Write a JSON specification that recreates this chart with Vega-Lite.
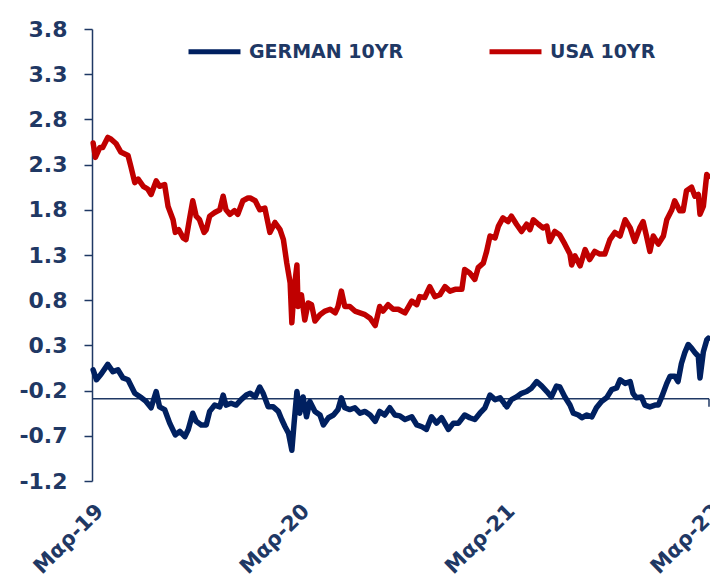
{
  "$schema": "https://vega.github.io/schema/vega-lite/v6.json",
  "width": 617,
  "height": 452,
  "autosize": {"type": "none"},
  "padding": {"left": 92, "top": 29, "right": 1, "bottom": 101},
  "background": "white",
  "config": {"view": {"stroke": null}, "font": "DejaVu Sans"},
  "layer": [
    {
      "data": {"values": [{"level": -0.29}]},
      "mark": {"type": "rule", "color": "#1F3864", "strokeWidth": 1.5},
      "encoding": {"y": {"field": "level", "type": "quantitative"}}
    },
    {
      "data": {"values": [{"date": "2020-03-20", "top": -0.29, "bottom": -0.38}, {"date": "2021-03-20", "top": -0.29, "bottom": -0.38}, {"date": "2022-03-20", "top": -0.29, "bottom": -0.38}]},
      "mark": {"type": "rule", "color": "#1F3864", "strokeWidth": 1.5},
      "encoding": {
        "x": {"field": "date", "type": "temporal"},
        "y": {"field": "top", "type": "quantitative"},
        "y2": {"field": "bottom"}
      }
    },
    {
      "data": {"values": [
        {"date": "2019-03-22", "series": "USA 10YR", "value": 2.54},
        {"date": "2019-03-26", "series": "USA 10YR", "value": 2.38},
        {"date": "2019-04-03", "series": "USA 10YR", "value": 2.49},
        {"date": "2019-04-08", "series": "USA 10YR", "value": 2.49},
        {"date": "2019-04-17", "series": "USA 10YR", "value": 2.60},
        {"date": "2019-04-23", "series": "USA 10YR", "value": 2.58},
        {"date": "2019-05-02", "series": "USA 10YR", "value": 2.53},
        {"date": "2019-05-10", "series": "USA 10YR", "value": 2.44},
        {"date": "2019-05-23", "series": "USA 10YR", "value": 2.40},
        {"date": "2019-05-28", "series": "USA 10YR", "value": 2.28},
        {"date": "2019-06-04", "series": "USA 10YR", "value": 2.10},
        {"date": "2019-06-10", "series": "USA 10YR", "value": 2.14},
        {"date": "2019-06-19", "series": "USA 10YR", "value": 2.06},
        {"date": "2019-06-27", "series": "USA 10YR", "value": 2.03},
        {"date": "2019-07-03", "series": "USA 10YR", "value": 1.97},
        {"date": "2019-07-12", "series": "USA 10YR", "value": 2.12},
        {"date": "2019-07-18", "series": "USA 10YR", "value": 2.06},
        {"date": "2019-07-27", "series": "USA 10YR", "value": 2.08},
        {"date": "2019-08-02", "series": "USA 10YR", "value": 1.84},
        {"date": "2019-08-11", "series": "USA 10YR", "value": 1.69},
        {"date": "2019-08-15", "series": "USA 10YR", "value": 1.55},
        {"date": "2019-08-21", "series": "USA 10YR", "value": 1.58},
        {"date": "2019-08-29", "series": "USA 10YR", "value": 1.49},
        {"date": "2019-09-03", "series": "USA 10YR", "value": 1.47},
        {"date": "2019-09-09", "series": "USA 10YR", "value": 1.69},
        {"date": "2019-09-15", "series": "USA 10YR", "value": 1.90},
        {"date": "2019-09-21", "series": "USA 10YR", "value": 1.73},
        {"date": "2019-09-27", "series": "USA 10YR", "value": 1.69},
        {"date": "2019-10-05", "series": "USA 10YR", "value": 1.55},
        {"date": "2019-10-09", "series": "USA 10YR", "value": 1.58},
        {"date": "2019-10-15", "series": "USA 10YR", "value": 1.73},
        {"date": "2019-10-24", "series": "USA 10YR", "value": 1.77},
        {"date": "2019-11-02", "series": "USA 10YR", "value": 1.80},
        {"date": "2019-11-08", "series": "USA 10YR", "value": 1.95},
        {"date": "2019-11-13", "series": "USA 10YR", "value": 1.80},
        {"date": "2019-11-20", "series": "USA 10YR", "value": 1.75},
        {"date": "2019-11-28", "series": "USA 10YR", "value": 1.79},
        {"date": "2019-12-04", "series": "USA 10YR", "value": 1.75},
        {"date": "2019-12-13", "series": "USA 10YR", "value": 1.90},
        {"date": "2019-12-22", "series": "USA 10YR", "value": 1.93},
        {"date": "2019-12-26", "series": "USA 10YR", "value": 1.93},
        {"date": "2020-01-04", "series": "USA 10YR", "value": 1.90},
        {"date": "2020-01-12", "series": "USA 10YR", "value": 1.80},
        {"date": "2020-01-21", "series": "USA 10YR", "value": 1.82},
        {"date": "2020-01-30", "series": "USA 10YR", "value": 1.55},
        {"date": "2020-02-08", "series": "USA 10YR", "value": 1.66},
        {"date": "2020-02-17", "series": "USA 10YR", "value": 1.58},
        {"date": "2020-02-23", "series": "USA 10YR", "value": 1.47},
        {"date": "2020-02-29", "series": "USA 10YR", "value": 1.21},
        {"date": "2020-03-06", "series": "USA 10YR", "value": 0.99},
        {"date": "2020-03-09", "series": "USA 10YR", "value": 0.55},
        {"date": "2020-03-13", "series": "USA 10YR", "value": 0.92},
        {"date": "2020-03-18", "series": "USA 10YR", "value": 1.19},
        {"date": "2020-03-20", "series": "USA 10YR", "value": 0.73},
        {"date": "2020-03-26", "series": "USA 10YR", "value": 0.86},
        {"date": "2020-04-01", "series": "USA 10YR", "value": 0.58},
        {"date": "2020-04-07", "series": "USA 10YR", "value": 0.77},
        {"date": "2020-04-13", "series": "USA 10YR", "value": 0.75},
        {"date": "2020-04-19", "series": "USA 10YR", "value": 0.57},
        {"date": "2020-04-28", "series": "USA 10YR", "value": 0.64},
        {"date": "2020-05-07", "series": "USA 10YR", "value": 0.68},
        {"date": "2020-05-16", "series": "USA 10YR", "value": 0.70},
        {"date": "2020-05-25", "series": "USA 10YR", "value": 0.66},
        {"date": "2020-05-30", "series": "USA 10YR", "value": 0.73},
        {"date": "2020-06-05", "series": "USA 10YR", "value": 0.90},
        {"date": "2020-06-11", "series": "USA 10YR", "value": 0.73},
        {"date": "2020-06-20", "series": "USA 10YR", "value": 0.73},
        {"date": "2020-06-29", "series": "USA 10YR", "value": 0.68},
        {"date": "2020-07-08", "series": "USA 10YR", "value": 0.66},
        {"date": "2020-07-17", "series": "USA 10YR", "value": 0.64},
        {"date": "2020-07-26", "series": "USA 10YR", "value": 0.60},
        {"date": "2020-08-04", "series": "USA 10YR", "value": 0.52},
        {"date": "2020-08-12", "series": "USA 10YR", "value": 0.73},
        {"date": "2020-08-18", "series": "USA 10YR", "value": 0.68},
        {"date": "2020-08-27", "series": "USA 10YR", "value": 0.75},
        {"date": "2020-09-05", "series": "USA 10YR", "value": 0.70},
        {"date": "2020-09-14", "series": "USA 10YR", "value": 0.70},
        {"date": "2020-09-26", "series": "USA 10YR", "value": 0.66},
        {"date": "2020-10-08", "series": "USA 10YR", "value": 0.79},
        {"date": "2020-10-17", "series": "USA 10YR", "value": 0.75},
        {"date": "2020-10-22", "series": "USA 10YR", "value": 0.84},
        {"date": "2020-10-31", "series": "USA 10YR", "value": 0.83},
        {"date": "2020-11-09", "series": "USA 10YR", "value": 0.95},
        {"date": "2020-11-18", "series": "USA 10YR", "value": 0.84},
        {"date": "2020-11-27", "series": "USA 10YR", "value": 0.86},
        {"date": "2020-12-06", "series": "USA 10YR", "value": 0.95},
        {"date": "2020-12-15", "series": "USA 10YR", "value": 0.90},
        {"date": "2020-12-24", "series": "USA 10YR", "value": 0.92},
        {"date": "2021-01-05", "series": "USA 10YR", "value": 0.92},
        {"date": "2021-01-10", "series": "USA 10YR", "value": 1.14},
        {"date": "2021-01-19", "series": "USA 10YR", "value": 1.10},
        {"date": "2021-01-28", "series": "USA 10YR", "value": 1.03},
        {"date": "2021-02-03", "series": "USA 10YR", "value": 1.16},
        {"date": "2021-02-12", "series": "USA 10YR", "value": 1.21},
        {"date": "2021-02-18", "series": "USA 10YR", "value": 1.34},
        {"date": "2021-02-24", "series": "USA 10YR", "value": 1.51},
        {"date": "2021-03-05", "series": "USA 10YR", "value": 1.49},
        {"date": "2021-03-11", "series": "USA 10YR", "value": 1.62},
        {"date": "2021-03-19", "series": "USA 10YR", "value": 1.71},
        {"date": "2021-03-28", "series": "USA 10YR", "value": 1.67},
        {"date": "2021-04-03", "series": "USA 10YR", "value": 1.73},
        {"date": "2021-04-12", "series": "USA 10YR", "value": 1.64},
        {"date": "2021-04-21", "series": "USA 10YR", "value": 1.56},
        {"date": "2021-04-30", "series": "USA 10YR", "value": 1.64},
        {"date": "2021-05-06", "series": "USA 10YR", "value": 1.58},
        {"date": "2021-05-12", "series": "USA 10YR", "value": 1.69},
        {"date": "2021-05-21", "series": "USA 10YR", "value": 1.64},
        {"date": "2021-05-29", "series": "USA 10YR", "value": 1.60},
        {"date": "2021-06-05", "series": "USA 10YR", "value": 1.62},
        {"date": "2021-06-10", "series": "USA 10YR", "value": 1.45},
        {"date": "2021-06-19", "series": "USA 10YR", "value": 1.56},
        {"date": "2021-06-28", "series": "USA 10YR", "value": 1.52},
        {"date": "2021-07-07", "series": "USA 10YR", "value": 1.42},
        {"date": "2021-07-16", "series": "USA 10YR", "value": 1.31},
        {"date": "2021-07-19", "series": "USA 10YR", "value": 1.19},
        {"date": "2021-07-25", "series": "USA 10YR", "value": 1.29},
        {"date": "2021-08-03", "series": "USA 10YR", "value": 1.18},
        {"date": "2021-08-12", "series": "USA 10YR", "value": 1.36},
        {"date": "2021-08-20", "series": "USA 10YR", "value": 1.25},
        {"date": "2021-08-29", "series": "USA 10YR", "value": 1.34},
        {"date": "2021-09-07", "series": "USA 10YR", "value": 1.31},
        {"date": "2021-09-16", "series": "USA 10YR", "value": 1.31},
        {"date": "2021-09-25", "series": "USA 10YR", "value": 1.47},
        {"date": "2021-10-04", "series": "USA 10YR", "value": 1.55},
        {"date": "2021-10-13", "series": "USA 10YR", "value": 1.51},
        {"date": "2021-10-22", "series": "USA 10YR", "value": 1.69},
        {"date": "2021-10-31", "series": "USA 10YR", "value": 1.60},
        {"date": "2021-11-08", "series": "USA 10YR", "value": 1.45},
        {"date": "2021-11-17", "series": "USA 10YR", "value": 1.60},
        {"date": "2021-11-23", "series": "USA 10YR", "value": 1.67},
        {"date": "2021-11-29", "series": "USA 10YR", "value": 1.51},
        {"date": "2021-12-05", "series": "USA 10YR", "value": 1.34},
        {"date": "2021-12-11", "series": "USA 10YR", "value": 1.51},
        {"date": "2021-12-20", "series": "USA 10YR", "value": 1.42},
        {"date": "2021-12-29", "series": "USA 10YR", "value": 1.51},
        {"date": "2022-01-04", "series": "USA 10YR", "value": 1.69},
        {"date": "2022-01-13", "series": "USA 10YR", "value": 1.80},
        {"date": "2022-01-18", "series": "USA 10YR", "value": 1.90},
        {"date": "2022-01-27", "series": "USA 10YR", "value": 1.79},
        {"date": "2022-02-02", "series": "USA 10YR", "value": 1.79},
        {"date": "2022-02-08", "series": "USA 10YR", "value": 2.01},
        {"date": "2022-02-17", "series": "USA 10YR", "value": 2.05},
        {"date": "2022-02-23", "series": "USA 10YR", "value": 1.95},
        {"date": "2022-03-01", "series": "USA 10YR", "value": 1.97},
        {"date": "2022-03-04", "series": "USA 10YR", "value": 1.75},
        {"date": "2022-03-10", "series": "USA 10YR", "value": 1.84},
        {"date": "2022-03-16", "series": "USA 10YR", "value": 2.19},
        {"date": "2022-03-19", "series": "USA 10YR", "value": 2.17},
        {"date": "2019-03-22", "series": "GERMAN 10YR", "value": 0.03},
        {"date": "2019-03-28", "series": "GERMAN 10YR", "value": -0.08},
        {"date": "2019-04-05", "series": "GERMAN 10YR", "value": -0.02},
        {"date": "2019-04-17", "series": "GERMAN 10YR", "value": 0.09},
        {"date": "2019-04-26", "series": "GERMAN 10YR", "value": 0.01},
        {"date": "2019-05-05", "series": "GERMAN 10YR", "value": 0.03},
        {"date": "2019-05-14", "series": "GERMAN 10YR", "value": -0.06},
        {"date": "2019-05-23", "series": "GERMAN 10YR", "value": -0.08},
        {"date": "2019-06-04", "series": "GERMAN 10YR", "value": -0.23},
        {"date": "2019-06-16", "series": "GERMAN 10YR", "value": -0.28},
        {"date": "2019-06-24", "series": "GERMAN 10YR", "value": -0.32},
        {"date": "2019-07-03", "series": "GERMAN 10YR", "value": -0.39},
        {"date": "2019-07-12", "series": "GERMAN 10YR", "value": -0.21},
        {"date": "2019-07-18", "series": "GERMAN 10YR", "value": -0.38},
        {"date": "2019-07-27", "series": "GERMAN 10YR", "value": -0.41},
        {"date": "2019-08-05", "series": "GERMAN 10YR", "value": -0.56},
        {"date": "2019-08-15", "series": "GERMAN 10YR", "value": -0.69},
        {"date": "2019-08-23", "series": "GERMAN 10YR", "value": -0.65},
        {"date": "2019-09-01", "series": "GERMAN 10YR", "value": -0.71},
        {"date": "2019-09-07", "series": "GERMAN 10YR", "value": -0.63},
        {"date": "2019-09-15", "series": "GERMAN 10YR", "value": -0.45},
        {"date": "2019-09-21", "series": "GERMAN 10YR", "value": -0.54},
        {"date": "2019-09-30", "series": "GERMAN 10YR", "value": -0.58},
        {"date": "2019-10-09", "series": "GERMAN 10YR", "value": -0.58},
        {"date": "2019-10-15", "series": "GERMAN 10YR", "value": -0.43},
        {"date": "2019-10-24", "series": "GERMAN 10YR", "value": -0.36},
        {"date": "2019-11-02", "series": "GERMAN 10YR", "value": -0.38},
        {"date": "2019-11-08", "series": "GERMAN 10YR", "value": -0.25},
        {"date": "2019-11-13", "series": "GERMAN 10YR", "value": -0.36},
        {"date": "2019-11-22", "series": "GERMAN 10YR", "value": -0.34},
        {"date": "2019-12-01", "series": "GERMAN 10YR", "value": -0.36},
        {"date": "2019-12-10", "series": "GERMAN 10YR", "value": -0.30},
        {"date": "2019-12-19", "series": "GERMAN 10YR", "value": -0.25},
        {"date": "2019-12-26", "series": "GERMAN 10YR", "value": -0.23},
        {"date": "2020-01-04", "series": "GERMAN 10YR", "value": -0.27},
        {"date": "2020-01-12", "series": "GERMAN 10YR", "value": -0.16},
        {"date": "2020-01-18", "series": "GERMAN 10YR", "value": -0.23},
        {"date": "2020-01-27", "series": "GERMAN 10YR", "value": -0.38},
        {"date": "2020-02-05", "series": "GERMAN 10YR", "value": -0.38},
        {"date": "2020-02-14", "series": "GERMAN 10YR", "value": -0.43},
        {"date": "2020-02-20", "series": "GERMAN 10YR", "value": -0.52},
        {"date": "2020-02-26", "series": "GERMAN 10YR", "value": -0.60},
        {"date": "2020-03-03", "series": "GERMAN 10YR", "value": -0.67},
        {"date": "2020-03-09", "series": "GERMAN 10YR", "value": -0.86},
        {"date": "2020-03-13", "series": "GERMAN 10YR", "value": -0.56},
        {"date": "2020-03-18", "series": "GERMAN 10YR", "value": -0.21},
        {"date": "2020-03-23", "series": "GERMAN 10YR", "value": -0.45},
        {"date": "2020-03-29", "series": "GERMAN 10YR", "value": -0.27},
        {"date": "2020-04-04", "series": "GERMAN 10YR", "value": -0.49},
        {"date": "2020-04-10", "series": "GERMAN 10YR", "value": -0.32},
        {"date": "2020-04-19", "series": "GERMAN 10YR", "value": -0.43},
        {"date": "2020-04-28", "series": "GERMAN 10YR", "value": -0.47},
        {"date": "2020-05-04", "series": "GERMAN 10YR", "value": -0.58},
        {"date": "2020-05-13", "series": "GERMAN 10YR", "value": -0.50},
        {"date": "2020-05-22", "series": "GERMAN 10YR", "value": -0.47},
        {"date": "2020-05-30", "series": "GERMAN 10YR", "value": -0.41},
        {"date": "2020-06-05", "series": "GERMAN 10YR", "value": -0.28},
        {"date": "2020-06-11", "series": "GERMAN 10YR", "value": -0.39},
        {"date": "2020-06-20", "series": "GERMAN 10YR", "value": -0.41},
        {"date": "2020-06-29", "series": "GERMAN 10YR", "value": -0.39},
        {"date": "2020-07-08", "series": "GERMAN 10YR", "value": -0.45},
        {"date": "2020-07-17", "series": "GERMAN 10YR", "value": -0.43},
        {"date": "2020-07-26", "series": "GERMAN 10YR", "value": -0.47},
        {"date": "2020-08-04", "series": "GERMAN 10YR", "value": -0.54},
        {"date": "2020-08-12", "series": "GERMAN 10YR", "value": -0.43},
        {"date": "2020-08-21", "series": "GERMAN 10YR", "value": -0.47},
        {"date": "2020-08-30", "series": "GERMAN 10YR", "value": -0.39},
        {"date": "2020-09-08", "series": "GERMAN 10YR", "value": -0.47},
        {"date": "2020-09-17", "series": "GERMAN 10YR", "value": -0.48},
        {"date": "2020-09-26", "series": "GERMAN 10YR", "value": -0.52},
        {"date": "2020-10-08", "series": "GERMAN 10YR", "value": -0.49},
        {"date": "2020-10-17", "series": "GERMAN 10YR", "value": -0.58},
        {"date": "2020-10-26", "series": "GERMAN 10YR", "value": -0.60},
        {"date": "2020-11-03", "series": "GERMAN 10YR", "value": -0.63},
        {"date": "2020-11-12", "series": "GERMAN 10YR", "value": -0.49},
        {"date": "2020-11-21", "series": "GERMAN 10YR", "value": -0.56},
        {"date": "2020-11-30", "series": "GERMAN 10YR", "value": -0.50},
        {"date": "2020-12-12", "series": "GERMAN 10YR", "value": -0.63},
        {"date": "2020-12-21", "series": "GERMAN 10YR", "value": -0.56},
        {"date": "2020-12-30", "series": "GERMAN 10YR", "value": -0.56},
        {"date": "2021-01-10", "series": "GERMAN 10YR", "value": -0.47},
        {"date": "2021-01-19", "series": "GERMAN 10YR", "value": -0.50},
        {"date": "2021-01-28", "series": "GERMAN 10YR", "value": -0.52},
        {"date": "2021-02-06", "series": "GERMAN 10YR", "value": -0.45},
        {"date": "2021-02-15", "series": "GERMAN 10YR", "value": -0.39},
        {"date": "2021-02-24", "series": "GERMAN 10YR", "value": -0.25},
        {"date": "2021-03-05", "series": "GERMAN 10YR", "value": -0.30},
        {"date": "2021-03-14", "series": "GERMAN 10YR", "value": -0.28},
        {"date": "2021-03-26", "series": "GERMAN 10YR", "value": -0.38},
        {"date": "2021-04-03", "series": "GERMAN 10YR", "value": -0.30},
        {"date": "2021-04-12", "series": "GERMAN 10YR", "value": -0.27},
        {"date": "2021-04-21", "series": "GERMAN 10YR", "value": -0.23},
        {"date": "2021-04-30", "series": "GERMAN 10YR", "value": -0.21},
        {"date": "2021-05-09", "series": "GERMAN 10YR", "value": -0.17},
        {"date": "2021-05-18", "series": "GERMAN 10YR", "value": -0.10},
        {"date": "2021-05-27", "series": "GERMAN 10YR", "value": -0.15},
        {"date": "2021-06-05", "series": "GERMAN 10YR", "value": -0.21},
        {"date": "2021-06-13", "series": "GERMAN 10YR", "value": -0.27},
        {"date": "2021-06-22", "series": "GERMAN 10YR", "value": -0.15},
        {"date": "2021-06-28", "series": "GERMAN 10YR", "value": -0.16},
        {"date": "2021-07-07", "series": "GERMAN 10YR", "value": -0.27},
        {"date": "2021-07-16", "series": "GERMAN 10YR", "value": -0.36},
        {"date": "2021-07-22", "series": "GERMAN 10YR", "value": -0.45},
        {"date": "2021-07-31", "series": "GERMAN 10YR", "value": -0.47},
        {"date": "2021-08-06", "series": "GERMAN 10YR", "value": -0.50},
        {"date": "2021-08-15", "series": "GERMAN 10YR", "value": -0.47},
        {"date": "2021-08-24", "series": "GERMAN 10YR", "value": -0.49},
        {"date": "2021-09-01", "series": "GERMAN 10YR", "value": -0.39},
        {"date": "2021-09-10", "series": "GERMAN 10YR", "value": -0.32},
        {"date": "2021-09-19", "series": "GERMAN 10YR", "value": -0.28},
        {"date": "2021-09-28", "series": "GERMAN 10YR", "value": -0.19},
        {"date": "2021-10-07", "series": "GERMAN 10YR", "value": -0.17},
        {"date": "2021-10-13", "series": "GERMAN 10YR", "value": -0.08},
        {"date": "2021-10-22", "series": "GERMAN 10YR", "value": -0.12},
        {"date": "2021-10-31", "series": "GERMAN 10YR", "value": -0.10},
        {"date": "2021-11-05", "series": "GERMAN 10YR", "value": -0.23},
        {"date": "2021-11-11", "series": "GERMAN 10YR", "value": -0.28},
        {"date": "2021-11-20", "series": "GERMAN 10YR", "value": -0.27},
        {"date": "2021-11-26", "series": "GERMAN 10YR", "value": -0.36},
        {"date": "2021-12-05", "series": "GERMAN 10YR", "value": -0.38},
        {"date": "2021-12-14", "series": "GERMAN 10YR", "value": -0.36},
        {"date": "2021-12-20", "series": "GERMAN 10YR", "value": -0.36},
        {"date": "2021-12-26", "series": "GERMAN 10YR", "value": -0.27},
        {"date": "2022-01-04", "series": "GERMAN 10YR", "value": -0.12},
        {"date": "2022-01-10", "series": "GERMAN 10YR", "value": -0.04},
        {"date": "2022-01-18", "series": "GERMAN 10YR", "value": -0.04},
        {"date": "2022-01-24", "series": "GERMAN 10YR", "value": -0.10},
        {"date": "2022-01-30", "series": "GERMAN 10YR", "value": 0.10},
        {"date": "2022-02-05", "series": "GERMAN 10YR", "value": 0.22},
        {"date": "2022-02-11", "series": "GERMAN 10YR", "value": 0.31},
        {"date": "2022-02-17", "series": "GERMAN 10YR", "value": 0.27},
        {"date": "2022-02-23", "series": "GERMAN 10YR", "value": 0.22},
        {"date": "2022-03-01", "series": "GERMAN 10YR", "value": 0.18},
        {"date": "2022-03-04", "series": "GERMAN 10YR", "value": -0.06},
        {"date": "2022-03-10", "series": "GERMAN 10YR", "value": 0.23},
        {"date": "2022-03-16", "series": "GERMAN 10YR", "value": 0.36},
        {"date": "2022-03-19", "series": "GERMAN 10YR", "value": 0.38}
      ]},
      "mark": {"type": "line", "strokeWidth": 5.5, "strokeJoin": "round", "strokeCap": "round"},
      "encoding": {
        "x": {
          "field": "date",
          "type": "temporal",
          "scale": {"type": "utc", "domain": [{"year": 2019, "month": 3, "date": 20, "utc": true}, {"year": 2022, "month": 3, "date": 20, "utc": true}]},
          "axis": {
            "values": [{"year": 2019, "month": 3, "date": 20, "utc": true}, {"year": 2020, "month": 3, "date": 20, "utc": true}, {"year": 2021, "month": 3, "date": 20, "utc": true}, {"year": 2022, "month": 3, "date": 20, "utc": true}],
            "labelExpr": "'Μαρ-' + utcFormat(datum.value, '%y')",
            "title": null,
            "grid": false,
            "domain": false,
            "ticks": false,
            "tickSize": 0,
            "labelAngle": -45,
            "labelFont": "DejaVu Sans",
            "labelFontSize": 21,
            "labelFontWeight": "bold",
            "labelColor": "#1F3864",
            "labelPadding": 19,
            "labelDx": 0,
            "labelFlush": false,
            "labelOverlap": false,
            "labelBound": false
          }
        },
        "y": {
          "field": "value",
          "type": "quantitative",
          "scale": {"domain": [-1.2, 3.8], "nice": false, "zero": false},
          "axis": {
            "values": [-1.2, -0.7, -0.2, 0.3, 0.8, 1.3, 1.8, 2.3, 2.8, 3.3, 3.8],
            "labelExpr": "replace(format(datum.value, '.1f'), '−', '-')",
            "title": null,
            "grid": false,
            "domainColor": "#1F3864",
            "domainWidth": 1.5,
            "tickColor": "#1F3864",
            "tickWidth": 1.5,
            "tickSize": 8,
            "labelFont": "DejaVu Sans",
            "labelFontSize": 22,
            "labelFontWeight": "bold",
            "labelColor": "#1F3864",
            "labelPadding": 17,
            "labelFlush": false,
            "labelOverlap": false
          }
        },
        "color": {
          "field": "series",
          "type": "nominal",
          "scale": {"domain": ["GERMAN 10YR", "USA 10YR"], "range": ["#002060", "#C00000"]},
          "legend": {
            "orient": "none",
            "legendX": 94,
            "legendY": -6,
            "direction": "horizontal",
            "title": null,
            "padding": 0,
            "symbolType": "stroke",
            "symbolSize": 2700,
            "symbolStrokeWidth": 5,
            "labelFont": "DejaVu Sans",
            "labelFontSize": 19,
            "labelFontWeight": "bold",
            "labelColor": "#1F3864",
            "labelOffset": 6,
            "columnPadding": 75
          }
        }
      }
    }
  ]
}
